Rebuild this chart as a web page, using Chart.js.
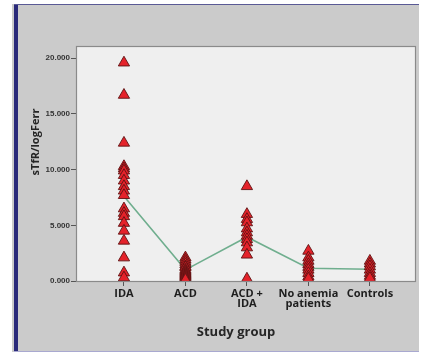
<!DOCTYPE html>
<html>
<head>
<meta charset="utf-8">
<script src="https://cdn.jsdelivr.net/npm/chart.js@4/dist/chart.umd.min.js"></script>
<style>
  html, body { margin: 0; padding: 0; background: #ffffff; }
  #wrap { width: 427px; height: 353px; position: relative; }
</style>
</head>
<body>
<div id="wrap"><canvas id="c" width="427" height="353"></canvas></div>
<script>
// Study groups along the x axis
const groups = ["IDA", "ACD", "ACD +\nIDA", "No anemia\npatients", "Controls"];

// sTfR/logFerritin index per subject, one array per group
const idaValues = [19.6, 16.7, 12.4, 10.3, 10.1, 9.9, 9.5, 9.0, 8.5, 8.1, 7.7, 6.5, 6.1, 5.8, 5.2, 4.5, 3.6, 2.1, 0.75, 0.3];
const acdValues = [2.1, 1.9, 1.7, 1.5, 1.3, 1.2, 1.0, 0.9, 0.8, 0.7, 0.6, 0.5, 0.4, 0.3, 0.2, 0.1];
const acdIdaValues = [8.5, 6.0, 5.55, 5.25, 4.7, 4.35, 4.05, 3.75, 3.45, 3.0, 2.35, 0.2];
const noAnemiaValues = [2.7, 2.1, 1.8, 1.5, 1.25, 1.0, 0.7, 0.4, 0.2];
const controlValues = [1.8, 1.55, 1.3, 1.0, 0.7, 0.45, 0.25];

// Group means joined by the line
const groupMeans = [7.6, 1.0, 3.95, 1.15, 1.05];

// Y axis tick values
const yTicks = [0, 5, 10, 15, 20];

const seriesByGroup = [idaValues, acdValues, acdIdaValues, noAnemiaValues, controlValues];
const scatterPoints = [];
seriesByGroup.forEach((vals, i) => vals.forEach(v => scatterPoints.push({ x: i, y: v })));
const meanPoints = groupMeans.map((m, i) => ({ x: i, y: m }));

// Panel background, frame and axis titles
const framePlugin = {
  id: 'frame',
  beforeDraw(chart) {
    const ctx = chart.ctx;
    const a = chart.chartArea;
    ctx.save();
    ctx.fillStyle = '#ffffff';
    ctx.fillRect(0, 0, chart.width, chart.height);
    ctx.fillStyle = '#cbcbcb';
    ctx.fillRect(12, 4, 407, 348);
    ctx.fillStyle = '#2a2a7a';
    ctx.fillRect(14, 4, 4, 348);
    ctx.fillStyle = '#5a5a95';
    ctx.fillRect(14, 4, 405, 1);
    ctx.fillStyle = '#a9a9d0';
    ctx.fillRect(14, 351, 405, 1);
    ctx.fillStyle = '#efefef';
    ctx.fillRect(a.left, a.top, a.right - a.left, a.bottom - a.top);
    ctx.restore();
  },
  afterDraw(chart) {
    const ctx = chart.ctx;
    const a = chart.chartArea;
    ctx.save();
    ctx.strokeStyle = '#8a8a8a';
    ctx.lineWidth = 1.2;
    ctx.strokeRect(a.left + 0.5, a.top + 0.5, a.right - a.left - 1, a.bottom - a.top);
    ctx.fillStyle = '#262626';
    ctx.textAlign = 'center';
    ctx.textBaseline = 'middle';
    ctx.font = 'bold 13px "Open Sans", sans-serif';
    ctx.fillText('Study group', 236, 332);
    ctx.translate(36, 142);
    ctx.rotate(-Math.PI / 2);
    ctx.font = 'bold 11px "Open Sans", sans-serif';
    ctx.fillText('sTfR/logFerr', 0, 0);
    ctx.restore();
  }
};

new Chart(document.getElementById('c'), {
  type: 'scatter',
  data: {
    datasets: [
      {
        label: 'Subjects',
        data: scatterPoints,
        pointStyle: 'triangle',
        pointRadius: 6.5,
        pointHoverRadius: 6.5,
        backgroundColor: '#e4222a',
        borderColor: '#5e1212',
        borderWidth: 0.9,
        order: 0
      },
      {
        label: 'Mean',
        type: 'line',
        data: meanPoints,
        borderColor: '#6fae8e',
        borderWidth: 1.6,
        pointRadius: 0,
        fill: false,
        tension: 0,
        order: 1
      }
    ]
  },
  plugins: [framePlugin],
  options: {
    responsive: false,
    animation: false,
    layout: { padding: { left: 0, top: 46, right: 11, bottom: 0 } },
    plugins: { legend: { display: false }, tooltip: { enabled: false } },
    scales: {
      x: {
        type: 'linear',
        min: -0.78,
        max: 4.75,
        afterBuildTicks: s => { s.ticks = groups.map((g, i) => ({ value: i })); },
        afterFit: s => { s.height = 72; },
        grid: { drawOnChartArea: false, tickLength: 5, color: '#555555' },
        border: { display: false },
        ticks: {
          padding: 3,
          color: '#1e1e1e',
          font: { family: '"Open Sans", sans-serif', size: 11, weight: 'bold', lineHeight: 0.92 },
          maxRotation: 0,
          autoSkip: false,
          callback: v => groups[v].split('\n')
        }
      },
      y: {
        min: 0,
        max: 21.1,
        afterBuildTicks: s => { s.ticks = yTicks.map(v => ({ value: v })); },
        afterFit: s => { s.width = 76; },
        grid: { drawOnChartArea: false, tickLength: 5, color: '#555555' },
        border: { display: false },
        ticks: {
          padding: 1,
          color: '#333333',
          font: { family: '"Liberation Sans", sans-serif', size: 8, weight: 'bold' },
          callback: v => v.toFixed(3)
        }
      }
    }
  }
});
</script>
</body>
</html>
